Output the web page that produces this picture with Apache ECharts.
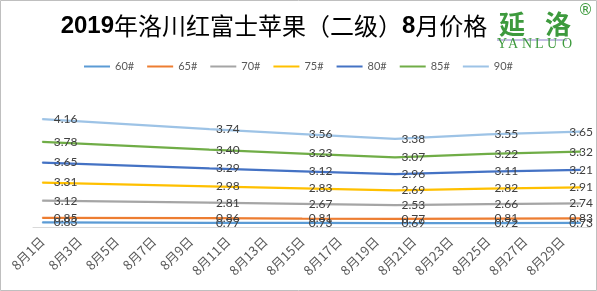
<!DOCTYPE html>
<html><head><meta charset="utf-8">
<script src="https://cdn.jsdelivr.net/npm/echarts@6/dist/echarts.min.js"></script>
<style>html,body{margin:0;padding:0;background:#fff}#c{width:597px;height:291px}</style>
</head><body><div id="c"></div>
<script>
const days = ['8月1日','8月2日','8月3日','8月4日','8月5日','8月6日','8月7日','8月8日','8月9日','8月10日',
  '8月11日','8月12日','8月13日','8月14日','8月15日','8月16日','8月17日','8月18日','8月19日','8月20日',
  '8月21日','8月22日','8月23日','8月24日','8月25日','8月26日','8月27日','8月28日','8月29日','8月30日'];
const pointDays = ['8月1日','8月10日','8月15日','8月20日','8月25日','8月30日'];
const names = ['60#','65#','70#','75#','80#','85#','90#'];
const s60 = [0.83, 0.77, 0.73, 0.69, 0.72, 0.73];
const s65 = [0.85, 0.86, 0.81, 0.77, 0.81, 0.83];
const s70 = [3.12, 2.81, 2.67, 2.53, 2.66, 2.74];
const s75 = [3.31, 2.98, 2.83, 2.69, 2.82, 2.91];
const s80 = [3.65, 3.29, 3.12, 2.96, 3.11, 3.21];
const s85 = [3.78, 3.40, 3.23, 3.07, 3.22, 3.32];
const s90 = [4.16, 3.74, 3.56, 3.38, 3.55, 3.65];
const values = [s60, s65, s70, s75, s80, s85, s90];
const colors = ['#5B9BD5','#ED7D31','#A5A5A5','#FFC000','#4472C4','#70AD47','#9DC3E6'];
const logoLetters = ['Y','A','N','L','U','O'];
const logoX = [497, 508, 522, 535, 547, 562];

function build(arr){
  return days.map(d => {
    const i = pointDays.indexOf(d);
    if (i < 0) return null;
    const item = {value: arr[i]};
    if (i === 0) item.label = {offset: [5, 0]};
    if (i === pointDays.length - 1) item.label = {offset: [-18, 0]};
    return item;
  });
}

const chart = echarts.init(document.getElementById('c'), null, {renderer:'canvas'});
chart.setOption({
  animation: false,
  title: {
    text: '{b|2019}{n|年洛川红富士苹果（二级）}{b|8}{n|月价格}',
    left: 269, top: 9, textAlign: 'center',
    textStyle: {
      rich: {
        b: {fontFamily: 'Liberation Sans, sans-serif', fontWeight: 'bold', fontSize: 24, color: '#000'},
        n: {fontFamily: 'Noto Sans CJK SC', fontWeight: 'normal', fontSize: 24, color: '#000'}
      }
    }
  },
  legend: {
    top: 56, left: 'center',
    itemWidth: 26, itemHeight: 10, itemGap: 13,
    icon: 'path://M0,4 L26,4 L26,6 L0,6 Z',
    textStyle: {fontSize: 11, color: '#595959', fontFamily: 'Lato, sans-serif'},
    data: names
  },
  grid: {left: 33, right: 7, top: 90, bottom: 64},
  xAxis: {
    type: 'category', data: days, boundaryGap: true,
    axisLine: {lineStyle: {color: '#d9d9d9', width: 1}},
    axisTick: {show: false},
    axisLabel: {interval: 1, rotate: 45, fontSize: 13, color: '#595959', fontFamily: 'Noto Sans CJK SC', margin: 12}
  },
  yAxis: {type: 'value', min: 0, max: 25, show: false, splitLine: {show: false}},
  series: names.map((n, k) => ({
    name: n, type: 'line', stack: 'total', connectNulls: true,
    data: build(values[k]),
    symbol: 'circle', symbolSize: 1, showSymbol: true,
    lineStyle: {width: 2.25, color: colors[k]},
    itemStyle: {color: colors[k]},
    label: {show: true, position: 'right', distance: 6, fontSize: 12, color: '#404040',
      fontFamily: 'Lato, sans-serif', formatter: p => p.value.toFixed(2)}
  })),
  graphic: [
    {type: 'rect', shape: {x: 0.5, y: 0.5, width: 596, height: 290}, style: {fill: 'none', stroke: '#bfbfbf', lineWidth: 1}, z: 100},
    {type: 'text', left: 499, top: 11, style: {text: '延', font: 'bold 26px "Noto Sans CJK SC"', fill: '#3d9a3d'}},
    {type: 'text', left: 545, top: 11, style: {text: '洛', font: 'bold 26px "Noto Sans CJK SC"', fill: '#3d9a3d'}},
    {type: 'line', shape: {x1: 497, y1: 40, x2: 567, y2: 40}, style: {stroke: '#8a7fc8', lineWidth: 1}},
    ...logoLetters.map((ch, i) => ({type: 'text', left: logoX[i], top: 37,
      style: {text: ch, font: '14px "Liberation Serif"', fill: '#3d9a3d'}})),
    {type: 'text', left: 578, top: 4, style: {text: '®', font: '15px "DejaVu Sans"', fill: '#3d9a3d'}}
  ]
});
</script></body></html>
